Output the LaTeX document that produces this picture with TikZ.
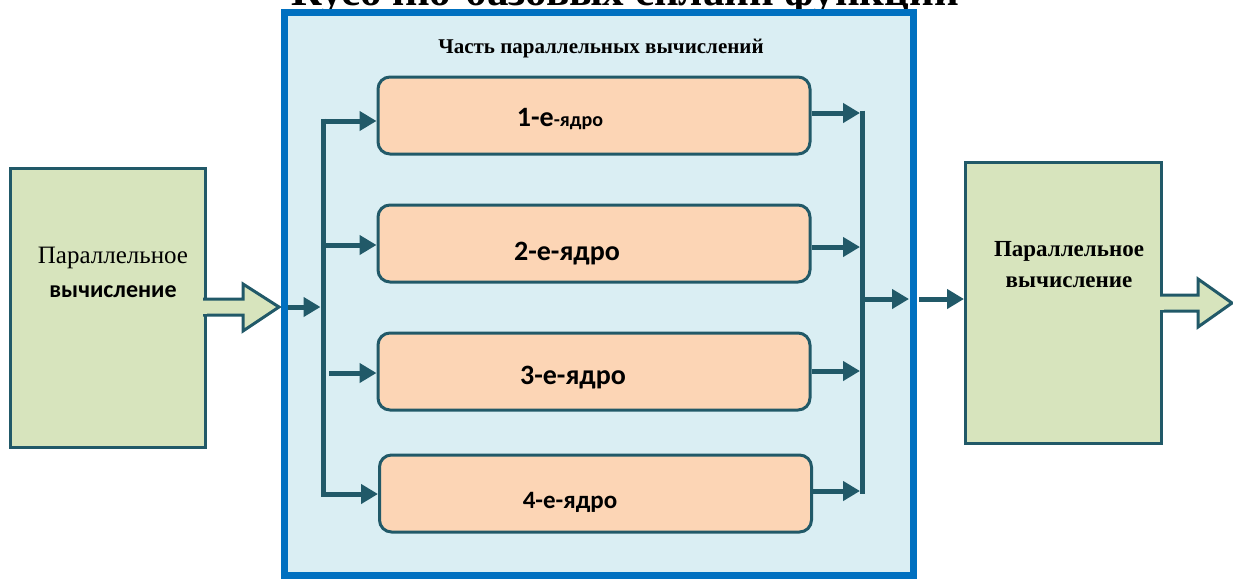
\documentclass[tikz,border=0pt]{standalone}
\usepackage{fontspec}
\setmainfont{Liberation Serif}
\newfontfamily\calib{Carlito}
\usetikzlibrary{arrows.meta}
\definecolor{darkteal}{HTML}{215968}
\definecolor{greenfill}{HTML}{D7E4BD}
\definecolor{peach}{HTML}{FCD5B5}
\definecolor{lightblue}{HTML}{DAEEF3}
\definecolor{frameblue}{HTML}{0070C0}
\tikzset{
  conn/.style={draw=darkteal, line width=5pt, -{Triangle[length=17pt,width=19pt]}},
  bus/.style={draw=darkteal, line width=5pt},
  greenbox/.style={draw=darkteal, fill=greenfill, line width=3pt, minimum width=195pt, minimum height=279pt, inner sep=0pt},
  corebox/.style={draw=darkteal, fill=peach, line width=3pt, rounded corners=12pt, minimum width=432pt, minimum height=77pt, inner sep=0pt},
  blockarrow/.style={fill=greenfill, draw=darkteal, line width=3pt, line join=miter},
  coretext/.style={anchor=base, font=\calib\bfseries\fontsize{28}{30}\selectfont},
  sertext/.style={anchor=base, font=\bfseries\fontsize{23}{25}\selectfont},
}
\begin{document}
\begin{tikzpicture}[x=1pt,y=-1pt]
\useasboundingbox (0,0) rectangle (1233,579);
\clip (0,0) rectangle (1233,579);

% cut-off title at top
\node[anchor=base, font=\bfseries\fontsize{43}{45}\selectfont, inner sep=0pt] (title) at (625,5) {Кусочно-базовых сплайн функции};

% parallel part frame
\node[draw=frameblue, fill=lightblue, line width=7pt, minimum width=629pt, minimum height=563pt, inner sep=0pt] (par) at (598.5,294) {};
\node[anchor=base, font=\bfseries\fontsize{21}{23}\selectfont, inner sep=0pt] (partitle) at (601,53) {Часть параллельных вычислений};

% cores
\node[corebox] (c1) at (594,115.5) {};
\node[corebox] (c2) at (594,243.5) {};
\node[corebox] (c3) at (594,371.5) {};
\node[corebox] (c4) at (595.5,493.5) {};
\node[coretext] (t1) at (560,126) {1-е{\fontsize{20}{22}\selectfont-ядро}};
\node[coretext] (t2) at (567,260) {2-е-ядро};
\node[coretext] (t3) at (573,384) {3-е-ядро};
\node[coretext, font=\calib\bfseries\fontsize{25}{27}\selectfont] (t4) at (570,508) {4-е-ядро};

% left green box
\node[greenbox] (lin) at (107.5,307.5) {};
\node[anchor=base, font=\fontsize{25}{27}\selectfont] (l1) at (113,263) {Параллельное};
\node[anchor=base, font=\calib\bfseries\fontsize{24}{26}\selectfont] (l2) at (113,297) {вычисление};
\path[blockarrow] (203,299) -- (243,299) -- (243,284) -- (279,307) -- (243,331) -- (243,315) -- (203,315);
\fill[greenfill] (201,300.5) rectangle (207,313.5);

% right green box
\node[greenbox, minimum width=196pt, minimum height=281pt] (rin) at (1063.5,303) {};
\node[sertext] (r1) at (1069,256) {Параллельное};
\node[sertext] (r2) at (1069,287) {вычисление};
\path[blockarrow] (1160,295) -- (1198,295) -- (1198,279) -- (1232,303) -- (1198,327) -- (1198,311) -- (1160,311);
\fill[greenfill] (1158,296.5) rectangle (1164,309.5);

% left bus
\coordinate (lbT) at (323,118.5);
\coordinate (lbB) at (323,497);
\draw[bus] (lbT) -- (lbB);
\coordinate (in0) at (288,307);
\coordinate (inE) at (320.5,307);
\draw[conn] (in0) -- (inE);
\coordinate (a1) at (323,121);
\coordinate (a2) at (323,245);
\coordinate (a3) at (329,373);
\coordinate (a4) at (323,494);
\draw[conn] (a1) -- (a1 -| c1.west);
\draw[conn] (a2) -- (a2 -| c2.west);
\draw[conn] (a3) -- (a3 -| c3.west);
\draw[conn] (a4) -- (a4 -| c4.west);

% right bus
\coordinate (rbT) at (862.5,110.5);
\coordinate (rbB) at (862.5,493.5);
\draw[bus] (rbT) -- (rbB);
\coordinate (b1) at (860,113);
\coordinate (b2) at (860,247);
\coordinate (b3) at (860,371);
\coordinate (b4) at (860,491);
\draw[conn] (b1 -| c1.east) -- (b1);
\draw[conn] (b2 -| c2.east) -- (b2);
\draw[conn] (b3 -| c3.east) -- (b3);
\draw[conn] (b4 -| c4.east) -- (b4);

% outputs
\coordinate (o1) at (865,299);
\coordinate (o2) at (909,299);
\draw[conn] (o1) -- (o2);
\coordinate (o3) at (919,299);
\draw[conn] (o3) -- (o3 -| rin.west);
\end{tikzpicture}
\end{document}
